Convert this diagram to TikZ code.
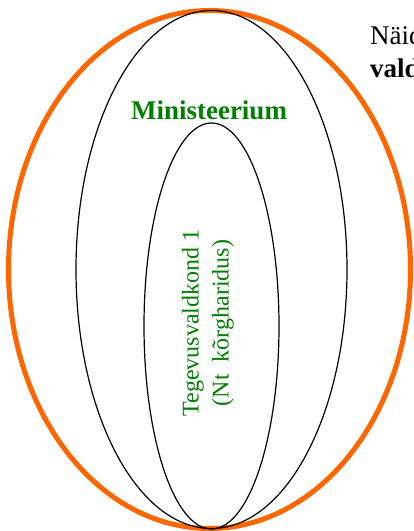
\documentclass[tikz,border=0pt]{standalone}
\usepackage{fontspec}
\setmainfont{Liberation Serif}
\definecolor{orng}{RGB}{255,102,0}
\definecolor{grn}{RGB}{0,128,0}
\tikzset{
  outerring/.style={draw=orng, line width=5pt},
  ring/.style={draw=black, line width=1.2pt},
  greenlabel/.style={text=grn, inner sep=0pt},
  sidetext/.style={text=black, inner sep=0pt, anchor=base west, font=\fontsize{27}{32}\selectfont}
}
\begin{document}
\begin{tikzpicture}[x=1pt,y=1pt]
\useasboundingbox (0,0) rectangle (414,531);
\clip (0,0) rectangle (414,531);
\coordinate (oc) at (209.5,261.5);
\coordinate (mc) at (211.5,261.5);
\coordinate (ic) at (211.5,205);
\draw[outerring] (oc) ellipse [x radius=201, y radius=259];
\draw[ring] (mc) ellipse [x radius=135.5, y radius=259];
\draw[ring] (ic) ellipse [x radius=67.5, y radius=203];
\node[greenlabel, anchor=base, font=\bfseries\fontsize{27}{32}\selectfont] (min) at (209,411) {Ministeerium};
\node[greenlabel, rotate=90, align=center, font=\fontsize{24}{30}\selectfont] (tv) at (208,208) {Tegevusvaldkond 1\\(Nt~ kõrgharidus)};
\node[sidetext] (n1) at (370,486) {Näid};
\node[sidetext, font=\bfseries\fontsize{27}{32}\selectfont] (n2) at (370,453) {vald};
\end{tikzpicture}
\end{document}
